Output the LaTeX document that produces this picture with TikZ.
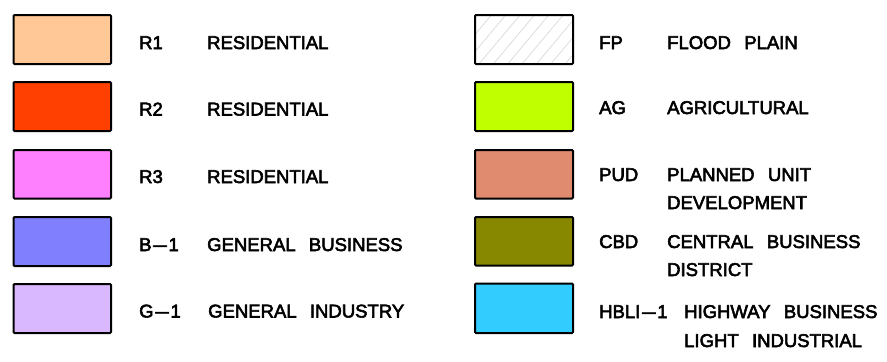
\documentclass[tikz,border=0pt]{standalone}
\usepackage{fontspec}
\setmainfont[WordSpace=2.6, FakeBold=3]{Liberation Sans}
\usetikzlibrary{patterns.meta}
\definecolor{cRone}{RGB}{255,200,150}
\definecolor{cRtwo}{RGB}{255,64,0}
\definecolor{cRthree}{RGB}{255,128,255}
\definecolor{cBone}{RGB}{128,128,255}
\definecolor{cGone}{RGB}{218,184,255}
\definecolor{cAG}{RGB}{191,255,0}
\definecolor{cPUD}{RGB}{224,138,112}
\definecolor{cCBD}{RGB}{136,136,0}
\definecolor{cHBLI}{RGB}{51,204,255}
\newcommand{\ldash}{\kern1.8bp\scalebox{1.3}[1]{--}\kern1.8bp}
\tikzset{
  swatch/.style={draw=black, line width=2bp, rounded corners=1bp},
  lbl/.style={anchor=base west, inner sep=0pt, font=\fontsize{18.5bp}{28bp}\selectfont},
}
\begin{document}
\begin{tikzpicture}[x=1bp,y=-1bp]
\useasboundingbox (0,0) rectangle (887,361);
% left column
\draw[swatch, fill=cRone]   (13.5,15) rectangle (111,64) coordinate (sR1);
\draw[swatch, fill=cRtwo]   (13.5,82) rectangle (111,131) coordinate (sR2);
\draw[swatch, fill=cRthree] (13.5,150) rectangle (111,198.5) coordinate (sR3);
\draw[swatch, fill=cBone]   (13.5,217) rectangle (111,266) coordinate (sB1);
\draw[swatch, fill=cGone]   (13.5,284) rectangle (111,333) coordinate (sG1);
\node[lbl] (cR1) at (139,49) {R1};
\node[lbl] (tR1) at (207,49) {RESIDENTIAL};
\node[lbl] (cR2) at (139,115.5) {R2};
\node[lbl] (tR2) at (207,115.5) {RESIDENTIAL};
\node[lbl] (cR3) at (139,183) {R3};
\node[lbl] (tR3) at (207,183) {RESIDENTIAL};
\node[lbl] (cB1) at (139,251) {B\ldash 1};
\node[lbl] (tB1) at (207,251) {GENERAL BUSINESS};
\node[lbl] (cG1) at (139,317.5) {G\ldash 1};
\node[lbl] (tG1) at (208,317.5) {GENERAL INDUSTRY};
% right column
\fill[white] (475,15) rectangle (573,64);
\fill[pattern={Lines[angle=50,distance=11bp,line width=0.7bp]}, pattern color=black!15] (475,15) rectangle (573,64);
\draw[swatch] (475,15) rectangle (573,64) coordinate (sFP);
\draw[swatch, fill=cAG]   (475,82) rectangle (573,131) coordinate (sAG);
\draw[swatch, fill=cPUD]  (475,150) rectangle (573,198.5) coordinate (sPUD);
\draw[swatch, fill=cCBD]  (475,217) rectangle (573,265.5) coordinate (sCBD);
\draw[swatch, fill=cHBLI] (475,283.5) rectangle (573,333) coordinate (sHBLI);
\node[lbl] (cFP) at (599,49) {FP};
\node[lbl] (tFP) at (667,49) {FLOOD PLAIN};
\node[lbl] (cAG) at (599,114) {AG};
\node[lbl] (tAG) at (667,114) {AGRICULTURAL};
\node[lbl] (cPUD) at (599,181) {PUD};
\node[lbl] (tPUDa) at (667,181) {PLANNED UNIT};
\node[lbl] (tPUDb) at (667,209) {DEVELOPMENT};
\node[lbl] (cCBD) at (599,248) {CBD};
\node[lbl] (tCBDa) at (667,248) {CENTRAL BUSINESS};
\node[lbl] (tCBDb) at (667,276) {DISTRICT};
\node[lbl] (cHBLI) at (599,318) {HBLI\ldash 1};
\node[lbl] (tHBLIa) at (684,318) {HIGHWAY BUSINESS};
\node[lbl] (tHBLIb) at (684,347) {LIGHT INDUSTRIAL};
\end{tikzpicture}
\end{document}
